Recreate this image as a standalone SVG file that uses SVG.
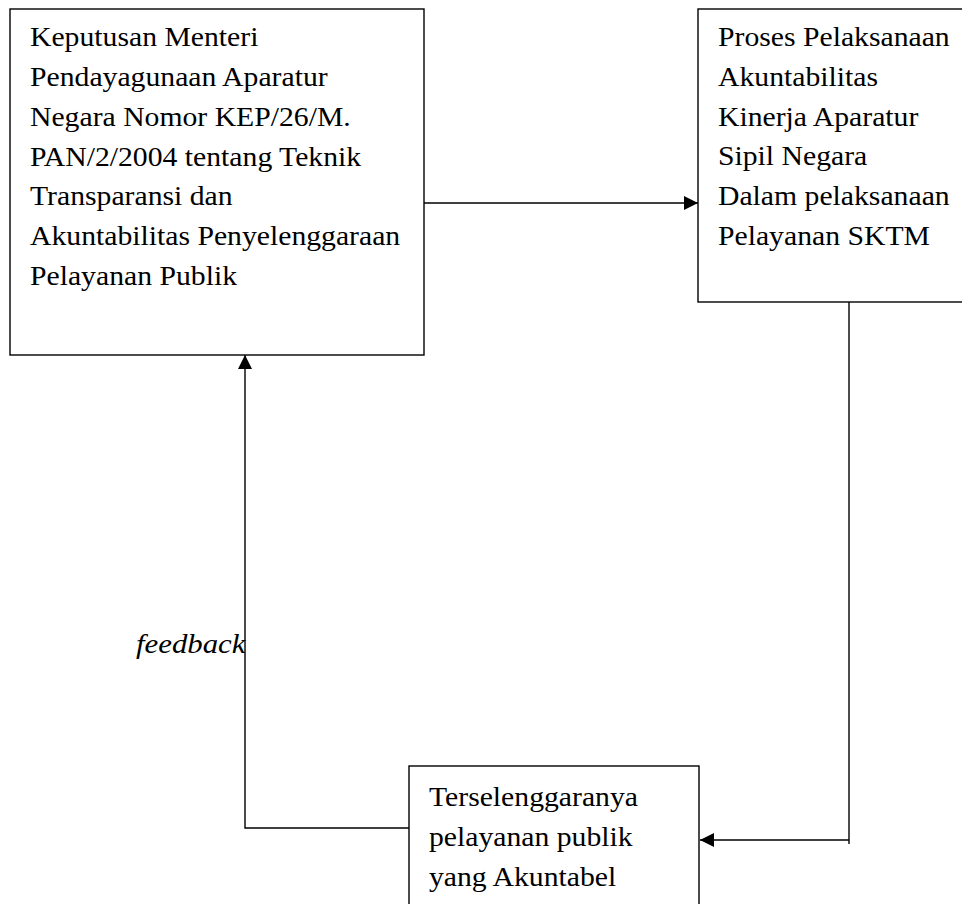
<svg xmlns="http://www.w3.org/2000/svg" width="962" height="904" viewBox="0 0 962 904">
<style>
.box{fill:#fff;stroke:#000;stroke-width:1.4}
.ln{fill:none;stroke:#000;stroke-width:1.4}
.t{font-family:"Liberation Serif","Times New Roman",serif;font-size:27px;fill:#000}
.i{font-family:"Liberation Serif","Times New Roman",serif;font-size:28px;font-style:italic;fill:#000}
</style>
<defs>
<marker id="ah" viewBox="0 0 14 14" refX="14" refY="7" markerWidth="14" markerHeight="14" markerUnits="userSpaceOnUse" orient="auto">
<path d="M0,0 L14,7 L0,14 Z" fill="#000"/>
</marker>
</defs>
<rect width="962" height="904" fill="#fff"/>
<g id="connectors">
<line class="ln" x1="424" y1="203" x2="698" y2="203" marker-end="url(#ah)"/>
<polyline class="ln" points="849,302 849,844"/>
<line class="ln" x1="849" y1="840" x2="700" y2="840" marker-end="url(#ah)"/>
<polyline class="ln" points="409,828 245,828 245,355" marker-end="url(#ah)"/>
<text class="i" transform="matrix(1.1 0 0 1 136 653)" x="0" y="0">feedback</text>
</g>
<g id="node-keputusan">
<rect class="box" x="10" y="9" width="414" height="346"/>
<text class="t" transform="matrix(1.1 0 0 1 30 0)">
<tspan x="0" y="46">Keputusan Menteri</tspan>
<tspan x="0" y="86">Pendayagunaan Aparatur</tspan>
<tspan x="0" y="126">Negara Nomor KEP/26/M.</tspan>
<tspan x="0" y="166">PAN/2/2004 tentang Teknik</tspan>
<tspan x="0" y="205">Transparansi dan</tspan>
<tspan x="0" y="245">Akuntabilitas Penyelenggaraan</tspan>
<tspan x="0" y="285">Pelayanan Publik</tspan>
</text>
</g>
<g id="node-proses">
<rect class="box" x="698" y="9" width="280" height="293"/>
<text class="t" transform="matrix(1.1 0 0 1 718 0)">
<tspan x="0" y="46">Proses Pelaksanaan</tspan>
<tspan x="0" y="86">Akuntabilitas</tspan>
<tspan x="0" y="126">Kinerja Aparatur</tspan>
<tspan x="0" y="165">Sipil Negara</tspan>
<tspan x="0" y="205">Dalam pelaksanaan</tspan>
<tspan x="0" y="245">Pelayanan SKTM</tspan>
</text>
</g>
<g id="node-terselenggara">
<rect class="box" x="409" y="766" width="290" height="160"/>
<text class="t" transform="matrix(1.1 0 0 1 429 0)">
<tspan x="0" y="806">Terselenggaranya</tspan>
<tspan x="0" y="846">pelayanan publik</tspan>
<tspan x="0" y="886">yang Akuntabel</tspan>
</text>
</g>
</svg>
